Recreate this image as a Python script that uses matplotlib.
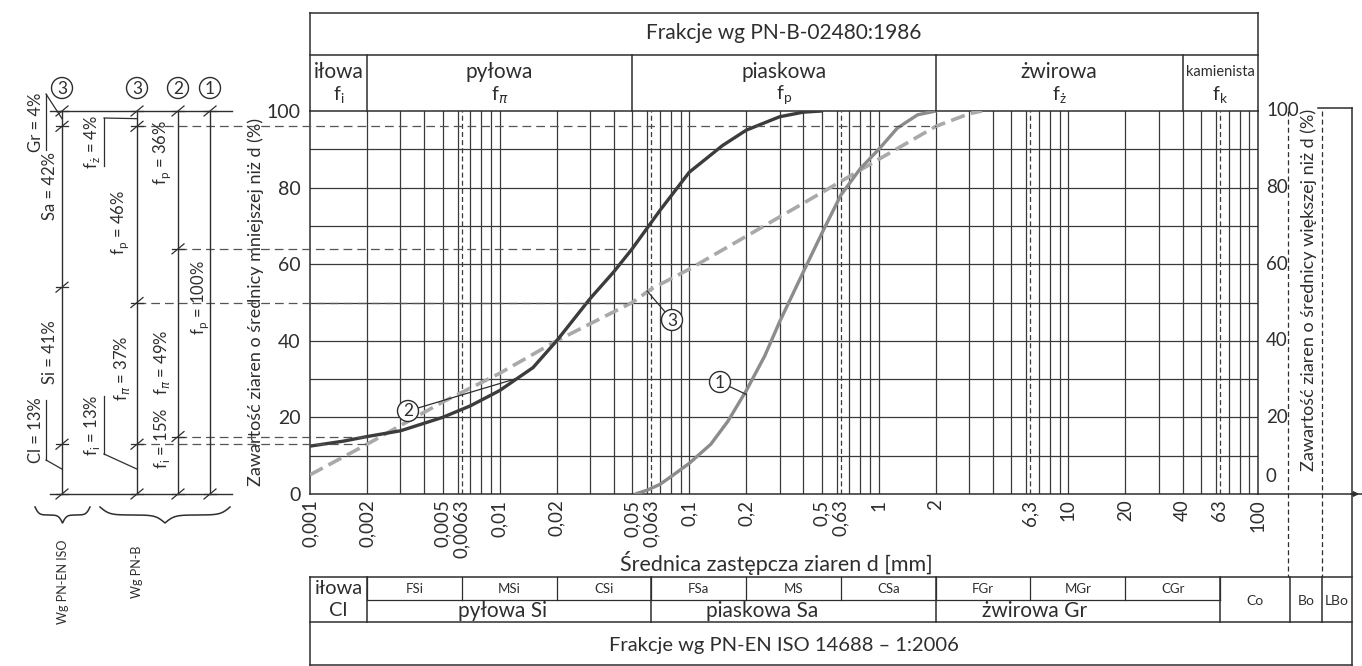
import numpy as np
import matplotlib
matplotlib.use("Agg")
import matplotlib.pyplot as plt
from matplotlib.patches import Circle
import matplotlib.transforms as mtransforms

plt.rcParams['font.family'] = ['Lato', 'DejaVu Sans']
plt.rcParams['mathtext.fontset'] = 'dejavusans'

# ---------------- data ----------------
curve1_d = [0.052, 0.06, 0.07, 0.08, 0.1, 0.13, 0.16, 0.2, 0.25, 0.3, 0.4, 0.5, 0.63, 0.8, 1.0, 1.25, 1.6, 2.0]
curve1_p = [0, 1, 2.5, 4.5, 8, 13, 19, 27, 36, 45, 58, 68, 78, 85, 90, 95.5, 99, 100]

curve2_d = [0.001, 0.0015, 0.002, 0.003, 0.005, 0.007, 0.01, 0.015, 0.02, 0.03, 0.04, 0.05,
            0.07, 0.1, 0.15, 0.2, 0.3, 0.4, 0.5]
curve2_p = [12.5, 13.8, 15, 16.5, 20, 23, 27, 33, 40, 51, 58, 64, 74, 84, 91, 95, 98.5, 99.7, 100]

curve3_d = [0.001, 0.002, 0.005, 0.01, 0.02, 0.05, 0.063, 0.1, 0.2, 0.5, 1.0, 2.0, 3.0, 3.5]
curve3_p = [5, 13, 24, 31.5, 40, 50, 53.5, 58.7, 67.3, 78.7, 87.4, 96, 99.3, 100]

xtick_vals = [0.001, 0.002, 0.005, 0.0063, 0.01, 0.02, 0.05, 0.063, 0.1, 0.2, 0.5, 0.63,
              1, 2, 6.3, 10, 20, 40, 63, 100]
xtick_labels = ['0,001', '0,002', '0,005', '0,0063', '0,01', '0,02', '0,05', '0,063', '0,1',
                '0,2', '0,5', '0,63', '1', '2', '6,3', '10', '20', '40', '63', '100']
ytick_vals = [0, 20, 40, 60, 80, 100]

pnb_bounds = [0.001, 0.002, 0.05, 2, 40, 100]
pnb_names = ['iłowa', 'pyłowa', 'piaskowa', 'żwirowa', 'kamienista']
pnb_syms = [r'f$_\mathregular{i}$', r'f$_\pi$', r'f$_\mathregular{p}$', r'f$_\mathregular{ż}$', r'f$_\mathregular{k}$']

iso_sub_bounds = [0.002, 0.0063, 0.02, 0.063, 0.2, 0.63, 2, 6.3, 20, 63]
iso_sub_names = ['FSi', 'MSi', 'CSi', 'FSa', 'MS', 'CSa', 'FGr', 'MGr', 'CGr']
iso_main_bounds = [0.002, 0.063, 2, 63]
iso_main_names = ['pyłowa Si', 'piaskowa Sa', 'żwirowa Gr']

# cumulative boundaries for the side scales
iso3_marks = [0, 13, 54, 96, 100]
pnb3_marks = [0, 13, 50, 96, 100]
pnb2_marks = [0, 15, 64, 100]
pnb1_marks = [0, 100]

# reference lines: (level %, end diameter)
ref_lines = [(96, 2.0), (64, 0.05), (50, 0.05), (15, 0.002), (13, 0.002)]

# ---------------- figure ----------------
W, H = 1362, 666
fig = plt.figure(figsize=(W / 100, H / 100), dpi=100)
fig.patch.set_facecolor('white')
X0, X1, YB, YT = 310, 1258, 494, 111
ax = fig.add_axes([X0 / W, 1 - YB / H, (X1 - X0) / W, (YB - YT) / H])
ax.set_facecolor('none')
ov = fig.add_axes([0, 0, 1, 1], zorder=3)
ov.set_xlim(0, W)
ov.set_ylim(H, 0)
ov.axis('off')
ov.patch.set_alpha(0)

INK = '#2e2e2e'
GRID = '#3a3a3a'

ax.set_xscale('log')
ax.set_xlim(0.001, 100)
ax.set_ylim(0, 100)
for s in ax.spines.values():
    s.set_color(INK)
    s.set_linewidth(1.1)

minor = [m * 10.0 ** e for e in range(-3, 2) for m in range(1, 10)]
for v in minor[1:]:
    ax.axvline(v, color=GRID, lw=0.9, zorder=1)
for v in [0.0063, 0.063, 0.63, 6.3, 63]:
    ax.axvline(v, color=GRID, lw=0.9, ls=(0, (4, 2.5)), zorder=1)
for p in range(10, 100, 10):
    ax.axhline(p, color=GRID, lw=0.9, zorder=1)

ax.set_xticks(xtick_vals, xtick_labels, rotation=90, fontsize=13.5)
ax.set_yticks(ytick_vals, [str(v) for v in ytick_vals], fontsize=14)
ax.minorticks_off()
ax.tick_params(axis='both', length=0, colors=INK)
ax.tick_params(axis='x', pad=4)
ax.tick_params(axis='y', pad=7)
ax.set_ylabel('Zawartość ziaren o średnicy mniejszej niż d (%)', fontsize=13, color=INK, labelpad=2)

# curves
ax.plot(curve3_d, curve3_p, color='#a9a9a9', lw=2.6, ls=(0, (4, 1.8)), zorder=4)
ax.plot(curve1_d, curve1_p, color='#8c8c8c', lw=2.4, zorder=5, solid_capstyle='round')
ax.plot(curve2_d, curve2_p, color='#3c3c3c', lw=2.4, zorder=5, solid_capstyle='round')


def to_px(d, p):
    return ov.transData.inverted().transform(ax.transData.transform((d, p)))


def py(p):
    return to_px(1, p)[1]


fig.canvas.draw()

# ---------------- top table (PN-B) ----------------
bt = mtransforms.blended_transform_factory(ax.transData, ov.transData)
TT, TM = 13, 55
ov.plot([pnb_bounds[0], pnb_bounds[-1]], [TT, TT], color=INK, lw=1.1, transform=bt)
ov.plot([pnb_bounds[0], pnb_bounds[-1]], [TM, TM], color=INK, lw=1.1, transform=bt)
for b in [pnb_bounds[0], pnb_bounds[-1]]:
    ov.plot([b, b], [TT, YT], color=INK, lw=1.1, transform=bt)
for b in pnb_bounds[1:-1]:
    ov.plot([b, b], [TM, YT], color=INK, lw=1.1, transform=bt)
ov.text(np.sqrt(pnb_bounds[0] * pnb_bounds[-1]), 33, 'Frakcje wg PN-B-02480:1986', transform=bt,
        ha='center', va='center', fontsize=15, color=INK)
for a, b, n, s in zip(pnb_bounds[:-1], pnb_bounds[1:], pnb_names, pnb_syms):
    xm = np.sqrt(a * b)
    ov.text(xm, 72, n, transform=bt, ha='center', va='center',
            fontsize=10.5 if n == 'kamienista' else 15, color=INK)
    ov.text(xm, 95, s, transform=bt, ha='center', va='center', fontsize=14, color=INK)

# ---------------- bottom table (PN-EN ISO) ----------------
BT, BM, BR, BB = 577, 600, 622, 665
XR = 1352
XCO, XBO = 1290, 1322
x_cl = to_px(0.002, 0)[0]
x_co = to_px(63, 0)[0]
ov.plot([X0, XR], [BT, BT], color=INK, lw=1.1)
ov.plot([X0, XR], [BR, BR], color=INK, lw=1.1)
ov.plot([X0, XR], [BB, BB], color=INK, lw=1.1)
ov.plot([X0, X0], [BT, BB], color=INK, lw=1.1)
ov.plot([XR, XR], [YT - 3, BB], color=INK, lw=1.1)
ov.plot([x_cl, x_co], [BM, BM], color=INK, lw=0.9)
for b in iso_sub_bounds:
    ov.plot([b, b], [BT, BM], color=INK, lw=0.9, transform=bt)
for b in iso_main_bounds:
    ov.plot([b, b], [BT, BR], color=INK, lw=1.1, transform=bt)
for xx in [XCO, XBO]:
    ov.plot([xx, xx], [BT, BR], color=INK, lw=1.1)
for a, b, n in zip(iso_sub_bounds[:-1], iso_sub_bounds[1:], iso_sub_names):
    ov.text(np.sqrt(a * b), 589, n, transform=bt, ha='center', va='center', fontsize=9.5, color=INK)
for xc, n in zip([503, 762, 1035], iso_main_names):
    ov.text(xc, 611, n, ha='center', va='center', fontsize=15, color=INK)
ov.text((X0 + x_cl) / 2, 588, 'iłowa', ha='center', va='center', fontsize=14.5, color=INK)
ov.text((X0 + x_cl) / 2, 610, 'Cl', ha='center', va='center', fontsize=14.5, color=INK)
ov.text((x_co + XCO) / 2, 601, 'Co', ha='center', va='center', fontsize=10, color=INK)
ov.text((XCO + XBO) / 2, 601, 'Bo', ha='center', va='center', fontsize=10, color=INK)
ov.text((XBO + XR) / 2, 601, 'LBo', ha='center', va='center', fontsize=10, color=INK)
ov.text(784, 645, 'Frakcje wg PN-EN ISO 14688 – 1:2006', ha='center', va='center', fontsize=14.5, color=INK)
ov.text(776, 563, 'Średnica zastępcza ziaren d [mm]', ha='center', va='center', fontsize=15.5, color=INK)

# ---------------- right side ----------------
rt = mtransforms.blended_transform_factory(ov.transData, ax.transData)
for v in [20, 40, 60, 80, 100]:
    ov.text(1266, v, str(v), transform=rt, ha='left', va='center', fontsize=13.5, color=INK)
ov.text(1266, 4.5, '0', transform=rt, ha='left', va='center', fontsize=13.5, color=INK)
for xx in [1288, XBO]:
    ov.plot([xx, xx], [YT, BT], color=INK, lw=0.9, ls=(0, (4, 2.5)))
ov.plot([1318, XR], [YT - 3, YT - 3], color=INK, lw=1.1)
ov.plot([X1, W], [YB, YB], color=INK, lw=1.1)
ov.annotate('', xy=(W, YB), xytext=(W - 14, YB),
            arrowprops=dict(arrowstyle='-|>', color=INK, lw=1.0, mutation_scale=8))
ov.text(1309, 290, 'Zawartość ziaren o średnicy większej niż d (%)', rotation=90, ha='center',
        va='center', fontsize=13, color=INK)

# ---------------- reference dashed lines ----------------
for lvl, dend in ref_lines:
    xe, ye = to_px(dend, lvl)
    ov.plot([137 if lvl in (96, 50, 13) else 178, xe], [ye, ye], color='#555555', lw=0.9,
            ls=(0, (7, 4)), zorder=2)

# ---------------- side scales ----------------
col_x = {'iso3': 62, 'pnb3': 137, 'pnb2': 178, 'pnb1': 210}
ov.plot([50, 232], [py(100), py(100)], color=INK, lw=1.0)
ov.plot([50, 232], [py(0), py(0)], color=INK, lw=1.0)
for key, marks in [('iso3', iso3_marks), ('pnb3', pnb3_marks), ('pnb2', pnb2_marks), ('pnb1', pnb1_marks)]:
    x = col_x[key]
    ov.plot([x, x], [py(0), py(100)], color=INK, lw=1.0)
    for m in marks:
        y = py(m)
        ov.plot([x - 6, x + 6], [y + 5, y - 5], color=INK, lw=0.9)
        ov.plot([x - 6, x + 6], [y, y], color=INK, lw=0.9)

for x, lab in [(62, '3'), (137, '3'), (178, '2'), (210, '1')]:
    ov.add_patch(Circle((x, 88), 10.5, fill=False, ec=INK, lw=1.0))
    ov.text(x, 88.5, lab, ha='center', va='center', fontsize=12.5, color=INK)

side_labels = [
    (36, 122, 'Gr = 4%'), (50, 186, 'Sa = 42%'), (50, 352, 'Si = 41%'), (36, 430, 'Cl = 13%'),
    (92, 142, r'f$_\mathregular{ż}$ = 4%'), (120, 222, r'f$_\mathregular{p}$ = 46%'),
    (122, 368, r'f$_\pi$ = 37%'), (92, 425, r'f$_\mathregular{i}$ = 13%'),
    (162, 152, r'f$_\mathregular{p}$ = 36%'), (162, 362, r'f$_\pi$ = 49%'),
    (162, 438, r'f$_\mathregular{i}$ = 15%'), (200, 298, r'f$_\mathregular{p}$ = 100%'),
]
for x, y, t in side_labels:
    ov.text(x, y, t, rotation=90, ha='center', va='center', fontsize=12, color=INK)

# underlines + leaders for small fractions
leaders = [((46, 94), (46, 150), (62, py(98))), ((46, 400), (46, 460), (62, py(6.5))),
           ((104, 118), (104, 166), (137, py(98))), ((104, 396), (104, 454), (137, py(6.5)))]
for (a, b, c) in leaders:
    ov.plot([a[0], b[0]], [a[1], b[1]], color=INK, lw=0.9)
    end = a if abs(a[1] - c[1]) < abs(b[1] - c[1]) else b
    ov.plot([end[0], c[0]], [end[1], c[1]], color=INK, lw=0.9)


# braces
def hbrace(x0, x1, ytop, h):
    half = (x1 - x0) / 2
    xs = np.linspace(0, half, 120)
    beta = 14.0 / half
    yh = 1 / (1 + np.exp(-beta * xs)) + 1 / (1 + np.exp(-beta * (xs - half)))
    yh = (yh - yh.min()) / (yh.max() - yh.min())
    xx = np.concatenate([x0 + xs, x1 - xs[::-1]])
    yy = np.concatenate([ytop + h * yh, ytop + h * yh[::-1]])
    ov.plot(xx, yy, color=INK, lw=1.1)


hbrace(35, 90, 507, 16)
hbrace(100, 230, 507, 16)
ov.text(63, 582, 'Wg PN-EN ISO', rotation=90, ha='center', va='center', fontsize=9, color=INK)
ov.text(137, 572, 'Wg PN-B', rotation=90, ha='center', va='center', fontsize=9, color=INK)

# circled curve labels
for lab, cxy, (d, p) in [('1', (720, 382), (0.2, 26)), ('2', (408, 411), (0.012, 30)),
                         ('3', (672, 320), (0.06, 53))]:
    tx, ty = to_px(d, p)
    vx, vy = tx - cxy[0], ty - cxy[1]
    nrm = np.hypot(vx, vy)
    ov.plot([cxy[0] + 10.5 * vx / nrm, tx], [cxy[1] + 10.5 * vy / nrm, ty], color=INK, lw=0.9)
    ov.add_patch(Circle(cxy, 10.5, fc='white', ec=INK, lw=1.0, zorder=6))
    ov.text(cxy[0], cxy[1] + 0.5, lab, ha='center', va='center', fontsize=12.5, color=INK, zorder=7)

fig.savefig('out.png', dpi=100, facecolor='white')
